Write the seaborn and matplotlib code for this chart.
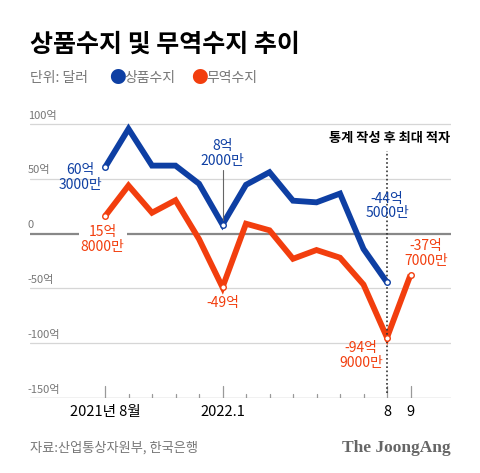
import matplotlib
matplotlib.use("Agg")
import matplotlib.pyplot as plt
import seaborn as sns
import pandas as pd

# data (unit: 억 달러)
months = ["2021-08", "2021-09", "2021-10", "2021-11", "2021-12",
          "2022-01", "2022-02", "2022-03", "2022-04", "2022-05",
          "2022-06", "2022-07", "2022-08", "2022-09"]
goods_balance = [60.3, 95.5, 62, 62, 45.5, 8.2, 44.5, 56, 30, 28.5, 36.5, -14, -44.5, None]
trade_balance = [15.8, 43.8, 19, 30.4, -5, -49, 9, 3, -23, -15, -22, -46.5, -94.9, -37.7]
tick_labels = {0: "2021년 8월", 5: "2022.1", 12: "8", 13: "9"}
yticks = [100, 50, 0, -50, -100, -150]
ytick_labels = ["100억", "50억", "0", "-50억", "-100억", "-150억"]

BLUE = "#0E3FA3"
ORANGE = "#F23E0E"
GRAY = "#777777"

sns.set_style("white")
plt.rcParams["font.family"] = ["Noto Sans CJK KR", "DejaVu Sans"]

df = pd.DataFrame({"idx": range(len(months)), "상품수지": goods_balance, "무역수지": trade_balance})

fig = plt.figure(figsize=(4.8, 4.73), dpi=100)
ax = fig.add_axes([30 / 480, (473 - 398) / 473, 421 / 480, (398 - 113) / 473])

sns.lineplot(data=df, x="idx", y="상품수지", ax=ax, color=BLUE, lw=4.2,
             solid_joinstyle="miter", solid_capstyle="butt")
sns.lineplot(data=df, x="idx", y="무역수지", ax=ax, color=ORANGE, lw=4.2,
             solid_joinstyle="miter", solid_capstyle="butt")

ax.set_xlim(-75 / 23.5, 346 / 23.5)
ax.set_ylim(-150, 110)

# grid lines
for v in yticks:
    if v == 0:
        ax.axhline(v, color="#888888", lw=1.6, zorder=1)
    elif v == -150:
        ax.axhline(v, color="#bbbbbb", lw=1.0, zorder=1)
    else:
        ax.axhline(v, color="#d6d6d6", lw=0.9, zorder=1)
for v, lab in zip(yticks, ytick_labels):
    ax.text(-75 / 23.5 - 0.1, v + 3, lab, fontsize=8, color=GRAY, ha="left", va="bottom")

# month ticks (upward from baseline)
for i in range(len(months)):
    h = 12 if i in tick_labels else 4
    ax.plot([i, i], [-150, -150 + h * 50 / 54.8], color="#999999", lw=0.9, zorder=1)
for i, lab in tick_labels.items():
    ax.text(i, -162.5, lab, fontsize=10.5, color="black", ha="center", va="center")

# highlighted points
marks = [(0, goods_balance[0], BLUE), (5, goods_balance[5], BLUE), (12, goods_balance[12], BLUE),
         (0, trade_balance[0], ORANGE), (5, trade_balance[5], ORANGE),
         (12, trade_balance[12], ORANGE), (13, trade_balance[13], ORANGE)]
for i, v, c in marks:
    ax.scatter(i, v, s=16, facecolor="white", edgecolor=c, lw=1.0, zorder=5)

# dotted line at record deficit
ax.plot([12, 12], [-145, 75], color="#333333", lw=1.2, ls=(0, (1, 1.5)), zorder=2)
ax.text(14.7, 87.5, "통계 작성 후 최대 적자", fontsize=9.5, fontweight="bold",
        ha="right", va="center", color="black")

# annotations
kw = dict(fontsize=10, ha="center", va="center", linespacing=1.05)
ax.text(-1.05, 51, "60억\n3000만", color=BLUE, **kw)
ax.text(-0.1, -5.5, "15억\n8000만", color=ORANGE, zorder=4,
        bbox=dict(facecolor="white", edgecolor="none", pad=1.5), **kw)
ax.text(5, 73, "8억\n2000만", color=BLUE, **kw)
ax.plot([5, 5], [58, 12], color="#666666", lw=0.8, zorder=2)
ax.text(5, -63, "-49억", color=ORANGE, **kw)
ax.text(12, 25, "-44억\n5000만", color=BLUE, **kw)
ax.text(13.65, -18, "-37억\n7000만", color=ORANGE, **kw)
ax.text(10.9, -111, "-94억\n9000만", color=ORANGE, **kw)

ax.axis("off")

# header
fig.text(30 / 480, 1 - 45 / 473, "상품수지 및 무역수지 추이", fontsize=18, fontweight="bold",
         ha="left", va="center", color="black")
fig.text(30 / 480, 1 - 78 / 473, "단위: 달러", fontsize=10, color=GRAY, ha="left", va="center")
fig.text(109 / 480, 1 - 78 / 473, "●", fontsize=12, color=BLUE, ha="left", va="center")
fig.text(124 / 480, 1 - 78 / 473, "상품수지", fontsize=10, color=GRAY, ha="left", va="center")
fig.text(191 / 480, 1 - 78 / 473, "●", fontsize=12, color=ORANGE, ha="left", va="center")
fig.text(206 / 480, 1 - 78 / 473, "무역수지", fontsize=10, color=GRAY, ha="left", va="center")

# footer
fig.text(30 / 480, 1 - 448 / 473, "자료:산업통상자원부, 한국은행", fontsize=9.5, color=GRAY,
         ha="left", va="center")
fig.text(451 / 480, 1 - 448 / 473, "The JoongAng", fontsize=12.5, fontweight="bold",
         family="Liberation Serif", color="#666666", ha="right", va="center")

fig.savefig("out.png", dpi=100)
